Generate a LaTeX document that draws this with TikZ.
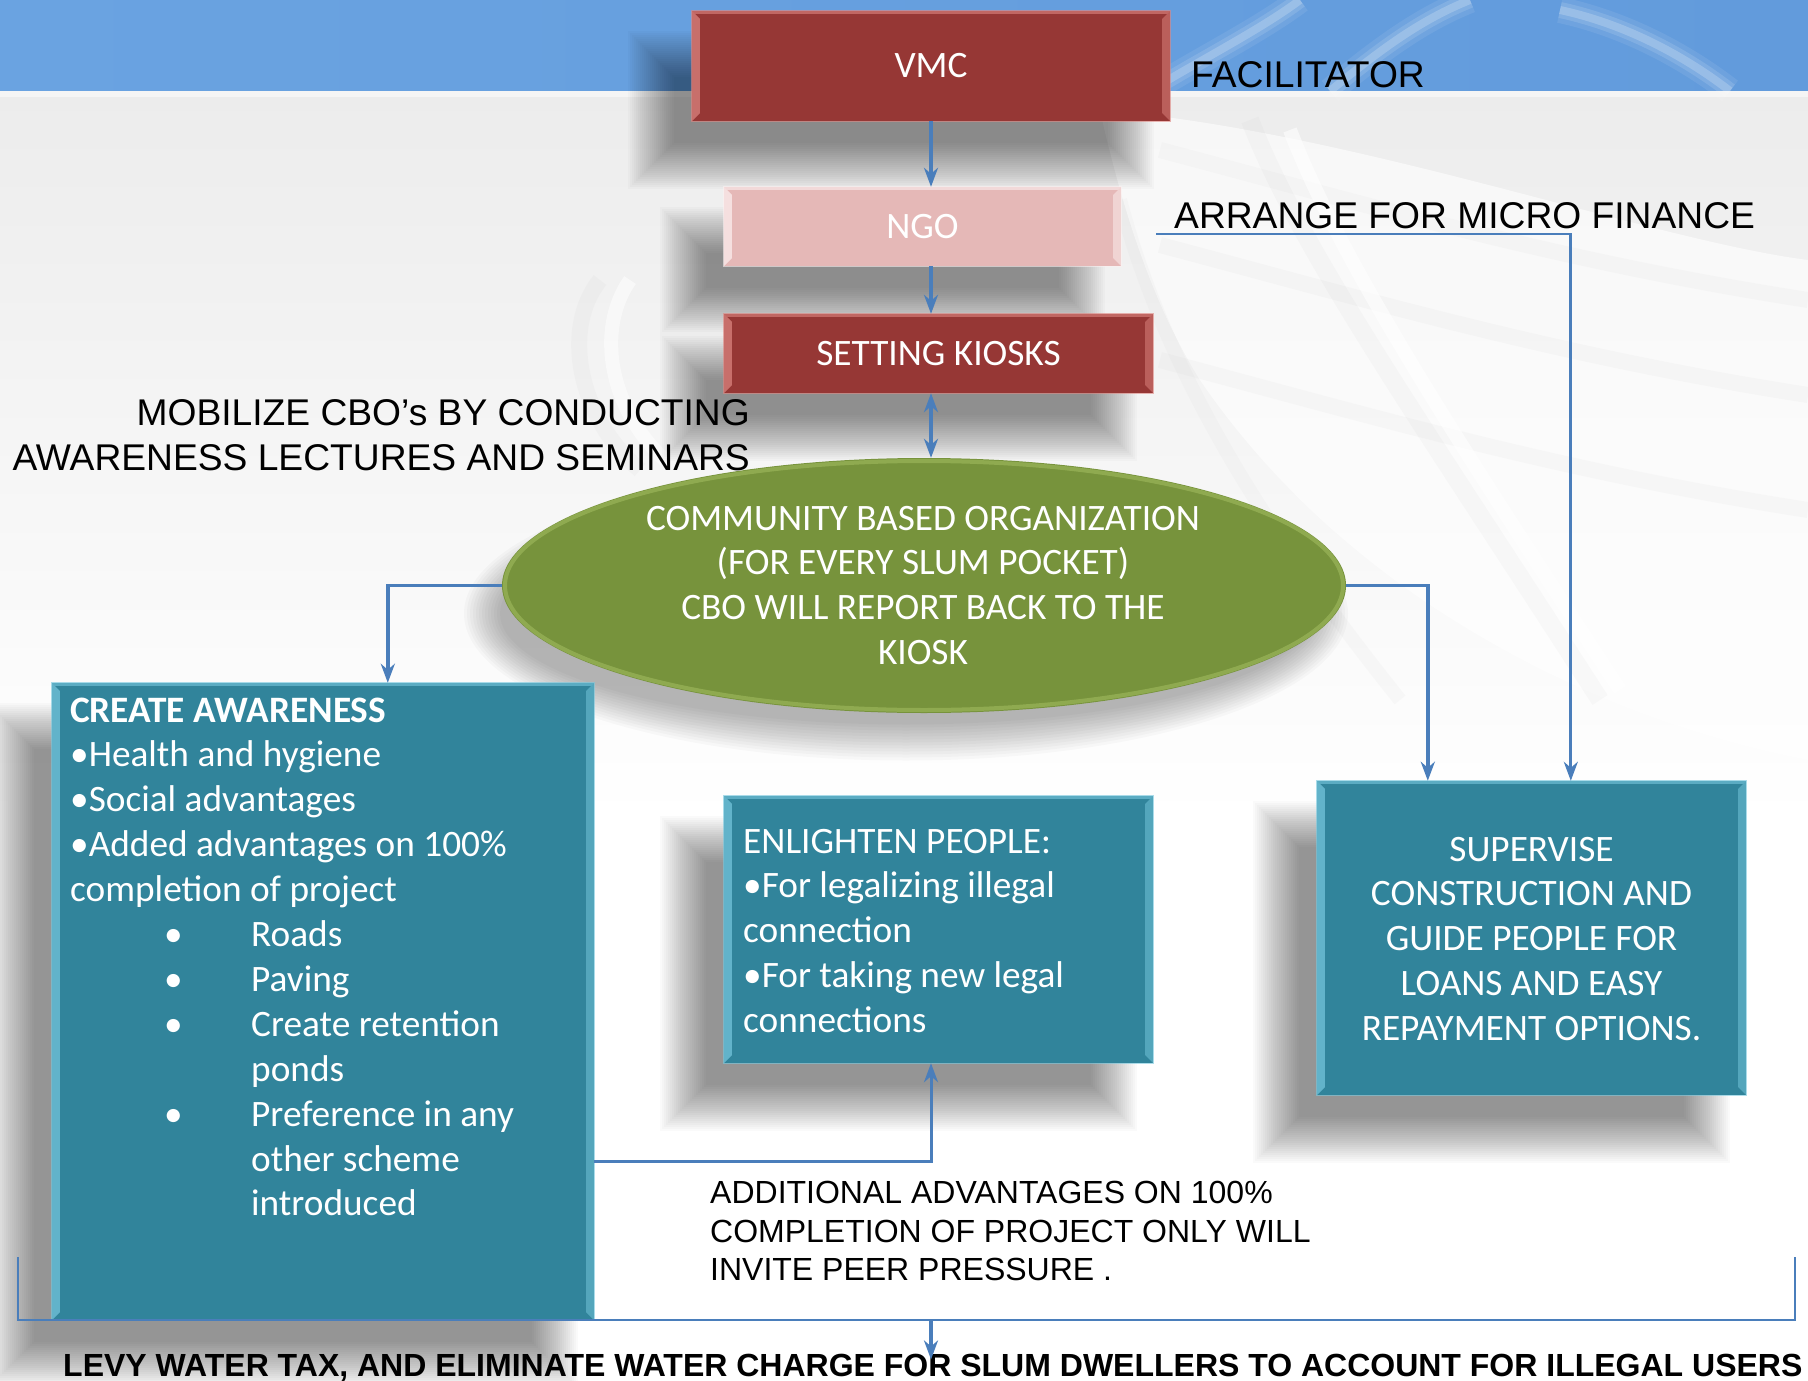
\documentclass[tikz,border=0pt]{standalone}
\usepackage{fontspec}
\setmainfont{Carlito}
\newfontfamily\arialfont{Liberation Sans}
\usetikzlibrary{arrows.meta,shapes.geometric,calc}
\pgfdeclarelayer{backdrop}
\pgfdeclarelayer{shade}
\pgfsetlayers{backdrop,shade,main}

\definecolor{bandblue}{RGB}{106,163,225}
\definecolor{banddeep}{RGB}{98,155,220}
\definecolor{boxred}{RGB}{150,55,53}
\definecolor{redlight}{RGB}{222,135,130}
\definecolor{boxpink}{RGB}{229,184,183}
\definecolor{pinklight}{RGB}{252,240,240}
\definecolor{boxgreen}{RGB}{119,147,60}
\definecolor{greenlight}{RGB}{190,215,120}
\definecolor{boxteal}{RGB}{49,132,155}
\definecolor{teallight}{RGB}{120,200,222}
\definecolor{linkblue}{RGB}{74,126,187}
\definecolor{paper}{RGB}{236,236,236}
\definecolor{streak}{RGB}{170,170,170}

% soft drop shadow behind a rectangular node
\newcommand\softshadow[1]{%
  \begin{pgfonlayer}{shade}
    \foreach \b in {24,22,...,-22}
      \fill[black,opacity=0.018]
        ($(#1.south west)+(-40-\b,44+\b)$) rectangle ($(#1.north east)+(-40+\b,44-\b)$);
  \end{pgfonlayer}}

% bevelled rim of a rectangular node: node, highlight colour, rim width
\newcommand\bevel[3]{%
  \fill[#2,opacity=0.7] (#1.south west) -- (#1.north west) -- ($(#1.north west)+(#3,#3)$) -- ($(#1.south west)+(#3,-#3)$) -- cycle;
  \fill[#2,opacity=0.5] (#1.south east) -- (#1.north east) -- ($(#1.north east)+(-#3,#3)$) -- ($(#1.south east)+(-#3,-#3)$) -- cycle;
  \fill[#2,opacity=0.6] (#1.north west) -- (#1.north east) -- ($(#1.north east)+(-3,3)$) -- ($(#1.north west)+(3,3)$) -- cycle;
  \draw[#2,line width=1.2pt,opacity=0.6] (#1.south west) rectangle (#1.north east);
}

\begin{document}
\begin{tikzpicture}[x=1pt,y=-1pt,
  boxbase/.style={rectangle,inner sep=0pt,text=white,font=\fontsize{37.3}{44.9}\selectfont},
  boxtext/.style={inner sep=0pt,text=white,font=\fontsize{37.3}{44.9}\selectfont},
  plainlabel/.style={inner sep=0pt,text=black,font=\arialfont\fontsize{37.2}{45}\selectfont},
  link/.style={draw=linkblue,line width=3.4pt},
  tip/.tip={Stealth[length=19pt,width=14pt,inset=6pt]},
  linkarrow/.style={link,-tip},
]
\useasboundingbox (0,0) rectangle (1808,1381);

% ---------- backdrop: grey paper, blue title band, faint splash ----------
\begin{pgfonlayer}{backdrop}
  \fill[white] (0,0) rectangle (1808,1381);
  \shade[top color=paper,bottom color=white] (0,91) rectangle (1808,820);
  \shade[left color=bandblue,right color=banddeep] (0,0) rectangle (1808,91);
  \fill[white,opacity=0.5] (0,91) rectangle (1808,97);
  % splash highlights in the band
  \foreach \w/\op in {26/0.08,16/0.12,8/0.2}{
    \draw[white,opacity=\op,line width=\w pt] (1330,91) .. controls (1380,50) and (1420,20) .. (1470,0);
    \draw[white,opacity=\op,line width=\w pt] (1560,10) .. controls (1630,25) and (1690,60) .. (1730,91);
    \draw[white,opacity=\op,line width=\w pt] (1150,91) .. controls (1200,60) and (1260,30) .. (1300,0);
  }
  % splash on the paper
  \fill[white,opacity=0.6] (1100,110) .. controls (1350,130) and (1650,240) .. (1808,260)
     -- (1808,760) .. controls (1600,720) and (1350,600) .. (1200,380) .. controls (1150,300) and (1120,200) .. cycle;
  \foreach \dy/\op in {0/0.05,95/0.06,210/0.05}
    \draw[streak,opacity=\op,line width=16pt]
      (1160,150+\dy) .. controls (1350,200+\dy) and (1550,260+\dy) .. (1808,300+\dy);
  \draw[streak,opacity=0.06,line width=18pt] (1250,120) .. controls (1300,250) and (1420,420) .. (1600,700);
  \draw[streak,opacity=0.05,line width=14pt] (1120,200) .. controls (1160,350) and (1240,500) .. (1400,700);
  \draw[white,opacity=0.6,line width=14pt] (1290,130) .. controls (1340,260) and (1450,430) .. (1620,690);
  \draw[streak,opacity=0.06,line width=16pt] (600,280) .. controls (560,330) and (580,420) .. (640,470);
  \draw[white,opacity=0.5,line width=14pt] (630,280) .. controls (595,330) and (610,410) .. (665,460);
\end{pgfonlayer}

% ---------- boxes ----------
\node[boxbase,fill=boxred,minimum width=478pt,minimum height=110pt] (vmc) at (931,66) {VMC};
\node[boxbase,fill=boxpink,minimum width=397pt,minimum height=79pt] (ngo) at (922.5,226.5) {NGO};
\node[boxbase,fill=boxred,minimum width=429pt,minimum height=79pt] (kiosk) at (938.5,353.5) {SETTING KIOSKS};
\node[ellipse,fill=boxgreen,minimum width=844pt,minimum height=255pt,inner sep=0pt] (cbo) at (924,585.5) {};
\node[boxbase,fill=boxteal,minimum width=542pt,minimum height=637pt] (aware) at (323,1001.5) {};
\node[boxbase,fill=boxteal,minimum width=429pt,minimum height=267pt] (enl) at (938.5,929.5) {};
\node[boxbase,fill=boxteal,minimum width=429pt,minimum height=314pt] (sup) at (1531.5,938) {};

\softshadow{vmc}
\softshadow{ngo}
\softshadow{kiosk}
\softshadow{aware}
\softshadow{enl}
\softshadow{sup}
\begin{pgfonlayer}{shade}
  \foreach \b in {20,17,...,-16}
    \fill[black,opacity=0.025] ($(cbo.center)+(-18,28)$) ellipse ({422+\b} and {127+\b});
\end{pgfonlayer}

\bevel{vmc}{redlight}{8}
\bevel{ngo}{pinklight}{8}
\bevel{kiosk}{redlight}{8}
\bevel{aware}{teallight}{8}
\bevel{enl}{teallight}{8}
\bevel{sup}{teallight}{8}
\draw[greenlight,opacity=0.35,line width=4pt] (cbo.center) ellipse (419 and 124.5);

% ---------- texts in the shapes ----------
\node[boxtext,anchor=base] (cbotext) at (923,530)
  {\parbox[t]{800pt}{\centering COMMUNITY BASED ORGANIZATION\\(FOR EVERY SLUM POCKET)\\CBO WILL REPORT BACK TO THE\\KIOSK}};
\node[boxtext,anchor=base west] (awtext) at (70,722)
  {\parbox[t]{520pt}{\raggedright \textbf{CREATE AWARENESS}\\
   •Health and hygiene\\
   •Social advantages\\
   •Added advantages on 100\%\\
   completion of project\\
   \hspace*{94pt}\makebox[87pt][l]{•}Roads\\
   \hspace*{94pt}\makebox[87pt][l]{•}Paving\\
   \hspace*{94pt}\makebox[87pt][l]{•}Create retention\\
   \hspace*{181pt}ponds\\
   \hspace*{94pt}\makebox[87pt][l]{•}Preference in any\\
   \hspace*{181pt}other scheme\\
   \hspace*{181pt}introduced}};
\node[boxtext,anchor=base west] (enltext) at (743,853)
  {\parbox[t]{400pt}{\raggedright ENLIGHTEN PEOPLE:\\•For legalizing illegal\\connection\\•For taking new legal\\connections}};
\node[boxtext,anchor=base] (suptext) at (1531.5,861)
  {\parbox[t]{420pt}{\centering SUPERVISE\\CONSTRUCTION AND\\GUIDE PEOPLE FOR\\LOANS AND EASY\\REPAYMENT OPTIONS.}};

% ---------- free labels ----------
\node[plainlabel,anchor=base west] (facil) at (1191,88) {FACILITATOR};
\node[plainlabel,anchor=base west] (micro) at (1174,228) {ARRANGE FOR MICRO FINANCE};
\node[plainlabel,anchor=base east] (mobil) at (750,425)
  {\parbox[t]{760pt}{\raggedleft MOBILIZE CBO’s BY CONDUCTING\\AWARENESS LECTURES AND SEMINARS}};
\node[plainlabel,font=\arialfont\fontsize{32}{38.5}\selectfont,anchor=base west] (peer) at (710,1203.5)
  {\parbox[t]{700pt}{\raggedright ADDITIONAL ADVANTAGES ON 100\%\\COMPLETION OF PROJECT ONLY WILL\\INVITE PEER PRESSURE .}};
\node[inner sep=0pt,font=\arialfont\bfseries\fontsize{32}{38}\selectfont,anchor=base west] (levy) at (63,1376)
  {LEVY WATER TAX, AND ELIMINATE WATER CHARGE FOR SLUM DWELLERS TO ACCOUNT FOR ILLEGAL USERS};

% ---------- connectors ----------
\draw[linkarrow] (vmc.south) -- (vmc.south |- ngo.north);
\draw[linkarrow] (vmc.south |- ngo.south) -- (vmc.south |- kiosk.north);
\draw[link,tip-tip] (vmc.south |- kiosk.south) -- (vmc.south |- cbo.north);

\coordinate (awin) at ($(aware.north west)+(336,0)$);
\draw[linkarrow] (cbo.west) -| (awin);
\coordinate (supin) at ($(sup.north west)+(111,0)$);
\draw[linkarrow] (cbo.east) -| (supin);

\coordinate (mfstart) at (1156,234);
\coordinate (mfin) at ($(sup.north west)+(254,0)$);
\draw[linkarrow,line width=2.8pt] (mfstart) -| (mfin);

\coordinate (awout) at ($(aware.south east)+(0,-159)$);
\draw[linkarrow,line width=3pt] (awout) -| (vmc.south |- enl.south);

\coordinate (brl) at (18,1257);
\coordinate (brr) at (1795,1257);
\draw[link,line width=2.4pt] (brl) -- (brl |- aware.south) -- (brr |- aware.south) -- (brr);
\draw[linkarrow] (vmc.south |- aware.south) -- ($(levy.north -| vmc.south)+(0,6)$);
\end{tikzpicture}
\end{document}
